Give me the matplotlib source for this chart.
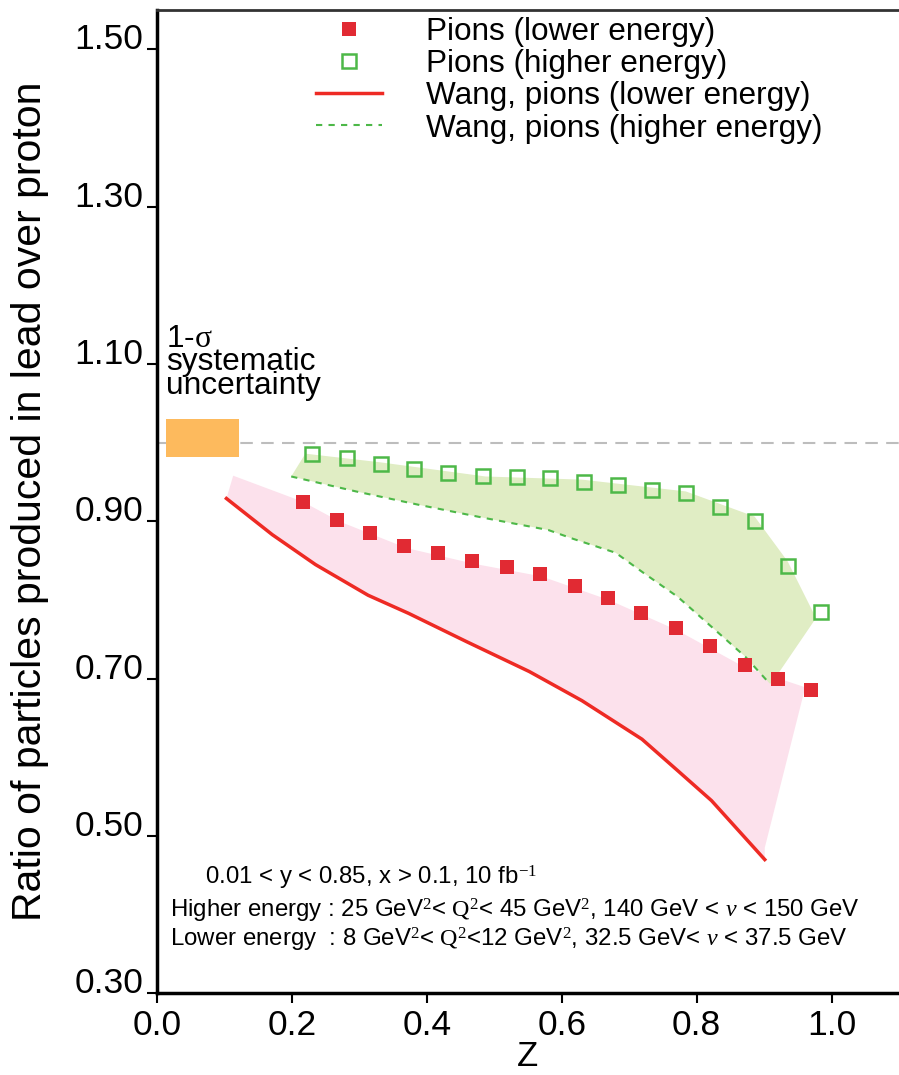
import matplotlib
matplotlib.use("Agg")
import matplotlib.pyplot as plt

plt.rcParams['font.family'] = ['Liberation Sans', 'DejaVu Sans']
plt.rcParams['mathtext.fontset'] = 'custom'
plt.rcParams['mathtext.rm'] = 'Liberation Serif'
plt.rcParams['mathtext.it'] = 'Liberation Serif:italic'
plt.rcParams['mathtext.sf'] = 'Liberation Sans'

# pions, lower energy (filled squares)
z_low = [0.216, 0.267, 0.316, 0.366, 0.417, 0.467, 0.519, 0.568,
         0.619, 0.669, 0.718, 0.769, 0.820, 0.871, 0.921, 0.970]
r_low = [0.925, 0.902, 0.885, 0.869, 0.860, 0.849, 0.842, 0.833,
         0.818, 0.803, 0.784, 0.765, 0.741, 0.717, 0.700, 0.686]

# pions, higher energy (open squares)
z_high = [0.230, 0.281, 0.332, 0.381, 0.432, 0.483, 0.533, 0.583,
          0.633, 0.684, 0.734, 0.784, 0.835, 0.886, 0.935, 0.985]
r_high = [0.986, 0.980, 0.973, 0.967, 0.962, 0.958, 0.956, 0.955,
          0.950, 0.946, 0.940, 0.936, 0.918, 0.900, 0.843, 0.785]

# Wang curves
z_wang_low = [0.103, 0.171, 0.235, 0.313, 0.373, 0.459, 0.552, 0.630,
              0.719, 0.772, 0.822, 0.901]
r_wang_low = [0.929, 0.883, 0.845, 0.806, 0.783, 0.747, 0.709, 0.672,
              0.623, 0.583, 0.545, 0.470]
z_wang_high = [0.199, 0.295, 0.388, 0.487, 0.580, 0.616, 0.680, 0.722,
               0.772, 0.822, 0.872, 0.908]
r_wang_high = [0.957, 0.938, 0.921, 0.904, 0.889, 0.878, 0.860, 0.834,
               0.804, 0.766, 0.728, 0.694]

# upper edges of the shaded bands
z_band_high = [0.220, 0.331, 0.487, 0.630, 0.784, 0.886, 0.935, 0.977, 0.911]
r_band_high = [0.986, 0.975, 0.957, 0.953, 0.938, 0.906, 0.849, 0.777, 0.694]
z_band_low = [0.113, 0.216, 0.270, 0.370, 0.470, 0.570, 0.670, 0.770, 0.870, 0.961, 0.901]
r_band_low = [0.958, 0.925, 0.900, 0.866, 0.846, 0.830, 0.800, 0.762, 0.715, 0.689, 0.485]

# systematic uncertainty box
sys_z = [0.013, 0.122]
sys_lo, sys_hi = 0.982, 1.030

fig = plt.figure(figsize=(8.99, 10.75), dpi=100)
ax = fig.add_axes([0.1746, 0.076, 0.8254, 0.9147])

# bands: upper edge then the Wang curve back
ax.fill(z_band_low + z_wang_low[::-1], r_band_low + r_wang_low[::-1],
        color='#fce1ec', lw=0, zorder=1)
ax.fill(z_band_high + z_wang_high[::-1], r_band_high + r_wang_high[::-1],
        color='#e0edc4', lw=0, zorder=1)

ax.fill_between(sys_z, sys_lo, sys_hi, color='#fdba5d', lw=0, zorder=2)
ax.axhline(1.0, color='#bdbdbd', ls=(0, (6, 4)), lw=1.5, zorder=1)

ax.plot(z_low, r_low, 's', color='#e12a33', ms=10.5, mew=0, zorder=4,
        label='Pions (lower energy)')
ax.plot(z_high, r_high, 's', mfc='none', mec='#4db848', ms=10, mew=1.8, zorder=4,
        label='Pions (higher energy)')
ax.plot(z_wang_low, r_wang_low, '-', color='#ee2a24', lw=2.5, zorder=3,
        label='Wang, pions (lower energy)')
ax.plot(z_wang_high, r_wang_high, '--', color='#4db848', lw=1.5, dashes=(3, 3),
        zorder=3, label='Wang, pions (higher energy)')

ax.set_xlim(0, 1.1)
ax.set_ylim(0.30, 1.55)
ax.set_xticks([0.0, 0.2, 0.4, 0.6, 0.8, 1.0])
ax.set_xticklabels(['0.0', '0.2', '0.4', '0.6', '0.8', '1.0'])
ax.set_yticks([0.30, 0.50, 0.70, 0.90, 1.10, 1.30, 1.50])
ax.set_yticklabels(['0.30', '0.50', '0.70', '0.90', '1.10', '1.30', '1.50'])
ax.tick_params(labelsize=25.5, length=7, width=1.5, direction='out')
ax.tick_params(axis='x', pad=4)
ax.tick_params(axis='y', pad=3)
for lab in ax.get_yticklabels():
    lab.set_va('baseline')

ax.spines['right'].set_visible(False)
ax.spines['left'].set_linewidth(2.5)
ax.spines['bottom'].set_linewidth(2.5)
ax.spines['top'].set_linewidth(2)
ax.spines['top'].set_color('#333333')

ax.set_xlabel('Z', fontsize=25, labelpad=-1)
ax.set_ylabel('Ratio of particles produced in lead over proton', fontsize=29.5, labelpad=18)

ax.legend(loc='upper left', bbox_to_anchor=(0.214, 0.993), frameon=False,
          fontsize=22.7, borderpad=0, borderaxespad=0, labelspacing=0.07,
          handlelength=2.1, handletextpad=1.4, numpoints=1)

ax.text(0.013, 1.151, '1-$\\mathrm{\\sigma}$\nsystematic\nuncertainty',
        fontsize=22.8, va='top', ha='left', linespacing=0.72)

ax.text(0.071, 0.438, '0.01 < y < 0.85, x > 0.1, 10 fb$^{-1}$',
        fontsize=17.3, va='baseline')
ax.text(0.019, 0.396,
        'Higher energy : 25 GeV$^{2}$< $\\mathrm{Q}^{2}$< 45 GeV$^{2}$, 140 GeV < $\\nu$ < 150 GeV',
        fontsize=17.3, va='baseline')
ax.text(0.019, 0.359,
        'Lower energy  : 8 GeV$^{2}$< $\\mathrm{Q}^{2}$<12 GeV$^{2}$, 32.5 GeV< $\\nu$ < 37.5 GeV',
        fontsize=17.3, va='baseline')

fig.savefig('out.png', dpi=100)
